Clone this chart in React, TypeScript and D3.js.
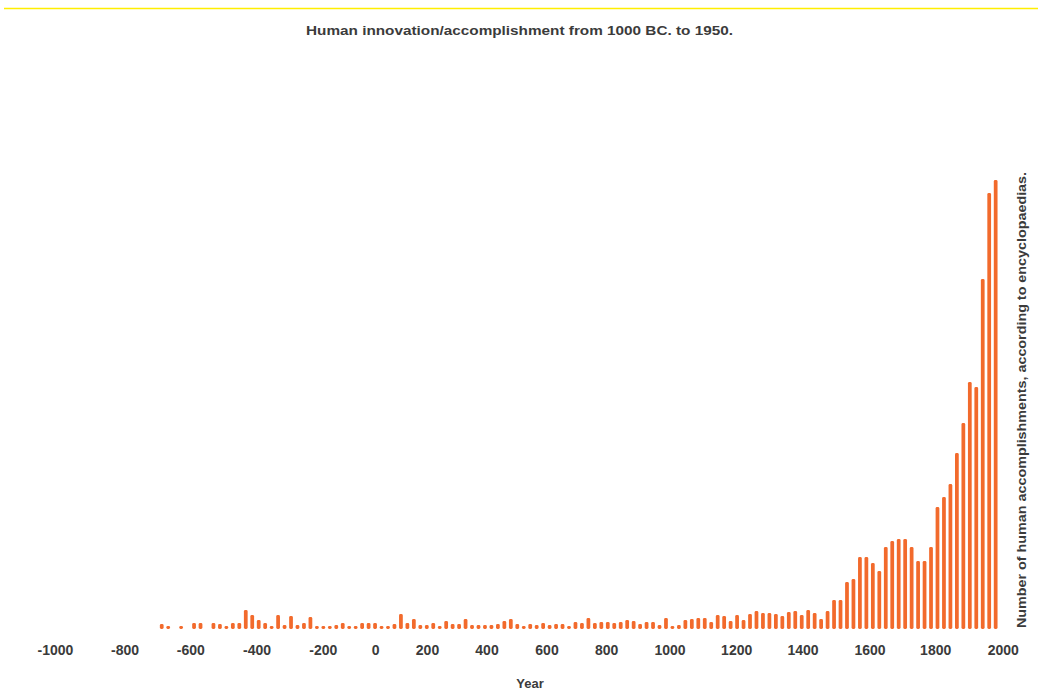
import React from "react";
import * as d3 from "d3";

// ---- data ----
const TITLE = "Human innovation/accomplishment from 1000 BC. to 1950.";
const X_LABEL = "Year";
const Y_LABEL = "Number of human accomplishments, according to encyclopaedias.";

// 20-year bins (start year of each bin)
const binYears: number[] = d3.range(-680, 1920, 20);

// accomplishments per bin (relative units)
const accomplishments: number[] = [
  5, 3, 0, 3, 0, 6, 6, 0, 6, 5, 3, 6, 6, 19, 14, 9, 6, 3, 14, 4,
  13, 4, 6, 12, 3, 3, 3, 4, 6, 3, 3, 6, 6, 6, 3, 3, 5, 15, 6, 10,
  4, 4, 6, 3, 8, 5, 5, 10, 4, 4, 4, 4, 5, 8, 10, 5, 3, 5, 4, 6,
  4, 5, 5, 3, 7, 6, 11, 6, 7, 7, 6, 7, 9, 8, 5, 7, 7, 4, 11, 3,
  4, 9, 10, 11, 11, 7, 14, 13, 8, 14, 9, 15, 18, 16, 16, 15, 13, 17, 18, 14,
  19, 16, 10, 18, 29, 29, 47, 50, 72, 72, 66, 58, 82, 88, 90, 90, 82, 68, 68, 82,
  122, 132, 145, 176, 206, 247, 242, 350, 436, 449,
];

const tickValues: number[] = [
  -1000, -800, -600, -400, -200, 0, 200, 400, 600, 800, 1000, 1200, 1400, 1600, 1800, 2000,
];

// ---- layout ----
const W = 1038;
const H = 691;
const BASELINE = 629;
const PLOT_TOP = 179;
const Y_MAX = 450;
// hand-placed axis label positions in the original artwork
const tickPx: number[] = [
  55.5, 125, 190.8, 257, 323.3, 375.7, 427.5, 487, 547, 606.7, 670, 736.7, 803, 870, 935.7, 1003.3,
];
const BAR_LEFT = 158.5;
const BAR_RIGHT = 998.9;

const BAR_COLOR = "#f26a2c";
const TEXT_COLOR = "#3b3b3b";
const FONT = "'Liberation Sans', Arial, sans-serif";

export default function App() {
  const data = binYears.map((y, i) => ({ year: y, value: accomplishments[i] ?? 0 }));

  const xBand = d3
    .scaleBand<number>()
    .domain(binYears)
    .range([BAR_LEFT, BAR_RIGHT])
    .paddingInner(0.42)
    .paddingOuter(0.21);

  const xAxis = d3.scaleLinear().domain(tickValues).range(tickPx);

  const y = d3.scaleLinear().domain([0, Y_MAX]).range([BASELINE, PLOT_TOP]);

  const bw = xBand.bandwidth();

  return (
    <svg
      width={W}
      height={H}
      viewBox={`0 0 ${W} ${H}`}
      style={{ position: "absolute", left: 0, top: 0, background: "#fff" }}
      fontFamily={FONT}
    >
      <rect x={0} y={0} width={W} height={H} fill="#ffffff" />
      {/* yellow rule at top */}
      <line x1={4} x2={W} y1={8.5} y2={8.5} stroke="#ffee00" strokeWidth={1.6} />

      {/* title */}
      <text
        x={519.5}
        y={35}
        textAnchor="middle"
        fontSize={13}
        fontWeight={700}
        fill={TEXT_COLOR}
        textLength={427}
        lengthAdjust="spacingAndGlyphs"
      >
        {TITLE}
      </text>

      {/* bars */}
      <g>
        {data.map((d) => {
          if (d.value <= 0) return null;
          const x0 = xBand(d.year) as number;
          const top = y(d.value);
          const h = BASELINE - top;
          return (
            <rect
              key={d.year}
              x={x0}
              y={top}
              width={bw}
              height={h}
              rx={Math.min(1.4, h / 2)}
              fill={BAR_COLOR}
            />
          );
        })}
      </g>

      {/* x tick labels */}
      <g>
        {tickValues.map((t) => (
          <text
            key={t}
            x={xAxis(t)}
            y={655}
            textAnchor="middle"
            fontSize={14}
            fontWeight={700}
            fill={TEXT_COLOR}
          >
            {t}
          </text>
        ))}
      </g>

      {/* x axis title */}
      <text x={530} y={688} textAnchor="middle" fontSize={13} fontWeight={700} fill={TEXT_COLOR}>
        {X_LABEL}
      </text>

      {/* y axis title (right side, rotated) */}
      <text
        transform={`translate(1025.5, 400) rotate(-90)`}
        textAnchor="middle"
        fontSize={12}
        fontWeight={700}
        fill={TEXT_COLOR}
        textLength={456}
        lengthAdjust="spacingAndGlyphs"
      >
        {Y_LABEL}
      </text>
    </svg>
  );
}
